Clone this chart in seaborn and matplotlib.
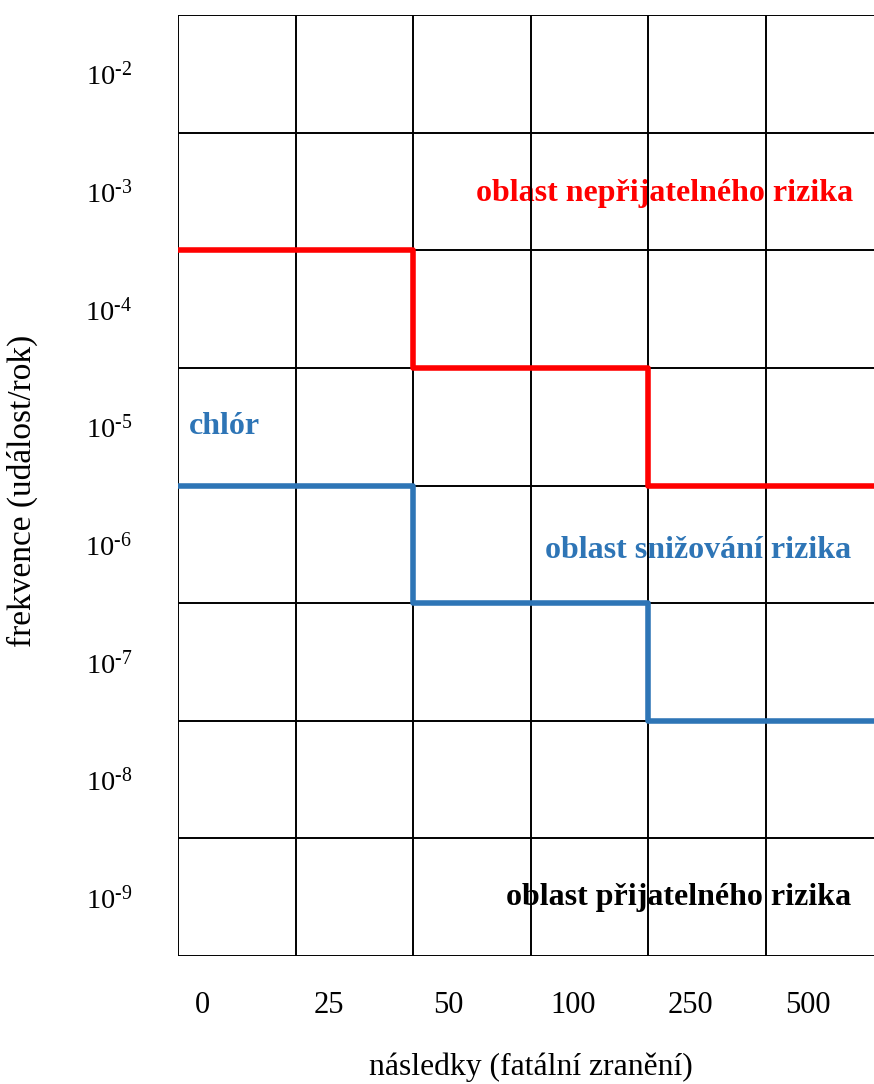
import matplotlib
matplotlib.use("Agg")
import matplotlib.pyplot as plt
import numpy as np
import pandas as pd
import seaborn as sns

# ---- data ----
consequence_labels = ["0", "25", "50", "100", "250", "500"]
frequency_exponents = [-2, -3, -4, -5, -6, -7, -8, -9]
step_edges = [0, 2, 4, 6]                        # column boundaries where the limit changes
unacceptable_limit = [-3.5, -4.5, -5.5, -5.5]    # log10 frequency (row boundaries)
chlorine_limit = [-5.5, -6.5, -7.5, -7.5]

sns.set_theme(style="white")
plt.rcParams["font.family"] = ["Liberation Serif", "DejaVu Serif"]
plt.rcParams["mathtext.fontset"] = "custom"
plt.rcParams["mathtext.rm"] = "Liberation Serif"
plt.rcParams["text.color"] = "black"
plt.rcParams["xtick.color"] = "black"
plt.rcParams["ytick.color"] = "black"
plt.rcParams["axes.labelcolor"] = "black"

RED = "#FF0000"
BLUE = "#2E75B6"

df = pd.DataFrame({
    "x": step_edges + step_edges,
    "y": unacceptable_limit + chlorine_limit,
    "series": ["red"] * len(step_edges) + ["blue"] * len(step_edges),
})

W, H = 874, 1084
fig = plt.figure(figsize=(W / 100, H / 100), dpi=100)
ax = fig.add_axes([178 / W, 1 - 956 / H, 1 - 178 / W, (956 - 15) / H])

# grid of cells
ncol = len(consequence_labels)
nrow = len(frequency_exponents)
for xb in range(ncol + 1):
    ax.axvline(xb, color="black", lw=1.4, zorder=3)
for k in range(nrow + 1):
    ax.axhline(frequency_exponents[0] + 0.5 - k, color="black", lw=1.4, zorder=3)

sns.lineplot(data=df, x="x", y="y", hue="series", palette={"red": RED, "blue": BLUE},
             drawstyle="steps-post", linewidth=4, estimator=None, sort=False,
             legend=False, ax=ax, zorder=4)
ax.set_xlabel("")
ax.set_ylabel("")

ax.set_xlim(0, (W - 178) / 117.6)
ax.set_ylim(frequency_exponents[-1] - 0.5, frequency_exponents[0] + 0.5)

ax.set_xticks([0.21, 1.28, 2.30, 3.36, 4.36, 5.36])
ax.set_xticklabels(consequence_labels, fontsize=22, color="black")
ax.set_yticks(frequency_exponents)
ax.set_yticklabels([r"$\mathregular{10^{\text{-}%d}}$" % abs(e) for e in frequency_exponents],
                   fontsize=20.5, color="black")
ax.tick_params(axis="both", length=0)
ax.tick_params(axis="x", pad=25)
ax.tick_params(axis="y", pad=33)
for s in ax.spines.values():
    s.set_visible(False)

fig.text(531 / W, 1 - 1067 / H, "následky (fatální zranění)", fontsize=22.8,
         ha="center", va="center", color="black")
fig.text(22 / W, 1 - 491 / H, "frekvence (událost/rok)", fontsize=24,
         rotation=90, ha="center", va="center", color="black")

ax.text(5.74, -3.02, "oblast nepřijatelného rizika", color=RED, fontsize=23,
        fontweight="bold", ha="right", va="center", zorder=2)
ax.text(0.09, -5.0, "chlór", color=BLUE, fontsize=23, fontweight="bold",
        ha="left", va="center", zorder=2)
ax.text(5.72, -6.05, "oblast snižování rizika", color=BLUE, fontsize=23,
        fontweight="bold", ha="right", va="center", zorder=2)
ax.text(5.72, -9.0, "oblast přijatelného rizika", color="black", fontsize=23,
        fontweight="bold", ha="right", va="center", zorder=2)

fig.savefig("out.png", dpi=100)
